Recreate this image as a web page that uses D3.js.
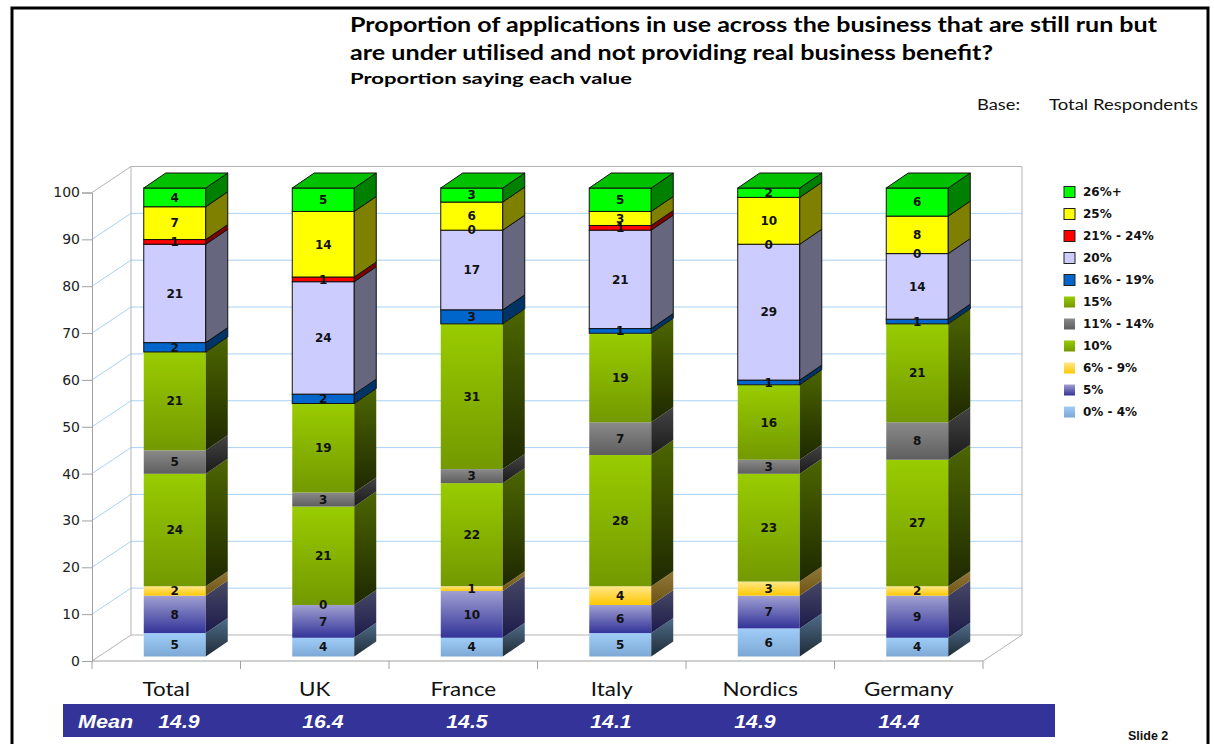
<!DOCTYPE html>
<html>
<head>
<meta charset="utf-8">
<script src="https://cdn.jsdelivr.net/npm/d3@7"></script>
<style>
  body { margin: 0; background: #fff; }
  svg { display: block; }
</style>
</head>
<body>
<svg id="chart" width="1214" height="744"></svg>
<script>
// ---- data ----
const categories = ["Total", "UK", "France", "Italy", "Nordics", "Germany"];
const bandLabels = ["0% - 4%", "5%", "6% - 9%", "10%", "11% - 14%", "15%",
                    "16% - 19%", "20%", "21% - 24%", "25%", "26%+"];
const pct0to4   = [5, 4, 4, 5, 6, 4];
const pct5      = [8, 7, 10, 6, 7, 9];
const pct6to9   = [2, 0, 1, 4, 3, 2];
const pct10     = [24, 21, 22, 28, 23, 27];
const pct11to14 = [5, 3, 3, 7, 3, 8];
const pct15     = [21, 19, 31, 19, 16, 21];
const pct16to19 = [2, 2, 3, 1, 1, 1];
const pct20     = [21, 24, 17, 21, 29, 14];
const pct21to24 = [1, 1, 0, 1, 0, 0];
const pct25     = [7, 14, 6, 3, 10, 8];
const pct26plus = [4, 5, 3, 5, 2, 6];
const meanScores = [14.9, 16.4, 14.5, 14.1, 14.9, 14.4];
const yTicks = [0, 10, 20, 30, 40, 50, 60, 70, 80, 90, 100];

const seriesValues = [pct0to4, pct5, pct6to9, pct10, pct11to14, pct15,
                      pct16to19, pct20, pct21to24, pct25, pct26plus];

// ---- look of each band (front face, side face, outline) ----
const bandStyles = [
  { front: ["#9fcdf8", "#7da8d5"], side: ["#4f6d8a", "#1f2b36"], stroke: null },
  { front: ["#a0a0d2", "#333399"], side: ["#484866", "#1b1b4a"], stroke: null },
  { front: ["#ffe78a", "#ffc800"], side: ["#927838", "#6e5414"], stroke: null },
  { front: ["#99cc00", "#739900"], side: ["#4d6600", "#1e2800"], stroke: null },
  { front: ["#8a8a8a", "#5e5e5e"], side: ["#444444", "#1a1a1a"], stroke: null },
  { front: ["#99cc00", "#739900"], side: ["#4d6600", "#1e2800"], stroke: null },
  { front: "#0066cc", side: "#003366", stroke: "#111" },
  { front: "#ccccff", side: "#66667f", stroke: "#111" },
  { front: "#ff0000", side: "#800000", stroke: "#111" },
  { front: "#ffff00", side: "#808000", stroke: "#111" },
  { front: "#00ff00", side: "#008000", top: "#00c000", stroke: "#111" }
];

const svg = d3.select("#chart");
const defs = svg.append("defs");

function paint(spec, id) {
  if (typeof spec === "string") return spec;
  const g = defs.append("linearGradient").attr("id", id)
    .attr("x1", 0).attr("y1", 0).attr("x2", 0).attr("y2", 1);
  g.append("stop").attr("offset", "0%").attr("stop-color", spec[0]);
  g.append("stop").attr("offset", "100%").attr("stop-color", spec[1]);
  return `url(#${id})`;
}
const fills = bandStyles.map((s, i) => ({
  front: paint(s.front, "front" + i),
  side: paint(s.side, "side" + i),
  top: s.top || null,
  stroke: s.stroke
}));

// stretch text horizontally to a given factor or width
function stretchBy(sel, k) {
  sel.each(function () {
    const w = this.getComputedTextLength();
    d3.select(this).attr("textLength", w * k).attr("lengthAdjust", "spacingAndGlyphs");
  });
}
function fitTo(sel, width) {
  sel.attr("textLength", width).attr("lengthAdjust", "spacingAndGlyphs");
}

// ---- outer frame ----
svg.append("rect").attr("x", 12).attr("y", 8).attr("width", 1196).attr("height", 800)
  .attr("fill", "none").attr("stroke", "#000").attr("stroke-width", 3);

// ---- titles ----
const titleFont = "Lato, 'Open Sans', sans-serif";
fitTo(svg.append("text").attr("x", 350).attr("y", 32)
  .attr("font-family", titleFont).attr("font-weight", 700).attr("font-size", 20)
  .text("Proportion of applications in use across the business that are still run but"), 807);
fitTo(svg.append("text").attr("x", 350).attr("y", 60)
  .attr("font-family", titleFont).attr("font-weight", 700).attr("font-size", 20)
  .text("are under utilised and not providing real business benefit?"), 643);
fitTo(svg.append("text").attr("x", 350).attr("y", 84)
  .attr("font-family", titleFont).attr("font-weight", 700).attr("font-size", 15.5)
  .text("Proportion saying each value"), 282);
fitTo(svg.append("text").attr("x", 977).attr("y", 110)
  .attr("font-family", titleFont).attr("font-size", 14.5).attr("fill", "#111")
  .text("Base:"), 43);
fitTo(svg.append("text").attr("x", 1049).attr("y", 110)
  .attr("font-family", titleFont).attr("font-size", 14.5).attr("fill", "#111")
  .text("Total Respondents"), 149);

// ---- scales ----
const x = d3.scaleBand().domain(categories).range([92, 983]);
const y = d3.scaleLinear().domain([0, 100]).range([661, 192.5]);
const wallDX = 39, wallDY = -26;          // depth of the floor / side wall
const barW = 62, barDX = 22, barDY = -15; // bar face width and bar depth
const barOffX = 8.5, barOffY = -4.5;      // bars sit a little back from the front edge

const xLeft = x.range()[0], xRight = x.range()[1];
const yBack = v => y(v) + wallDY;

// ---- walls and grid ----
const wall = svg.append("g");
const gridColor = "#a9d2f7", edgeColor = "#b4b4b4";
yTicks.filter(v => v > 0 && v < 100).forEach(v => {
  wall.append("line").attr("x1", xLeft + wallDX).attr("x2", xRight + wallDX)
    .attr("y1", yBack(v)).attr("y2", yBack(v)).attr("stroke", gridColor);
  wall.append("line").attr("x1", xLeft).attr("x2", xLeft + wallDX)
    .attr("y1", y(v)).attr("y2", yBack(v)).attr("stroke", gridColor);
});
const edges = [
  [xLeft + wallDX, yBack(100), xRight + wallDX, yBack(100)],
  [xLeft + wallDX, yBack(100), xLeft + wallDX, yBack(0)],
  [xRight + wallDX, yBack(100), xRight + wallDX, yBack(0)],
  [xLeft + wallDX, yBack(0), xRight + wallDX, yBack(0)],
  [xLeft, y(100), xLeft + wallDX, yBack(100)],
  [xLeft, y(0), xLeft + wallDX, yBack(0)],
  [xRight, y(0), xRight + wallDX, yBack(0)]
];
edges.forEach(e => wall.append("line")
  .attr("x1", e[0]).attr("y1", e[1]).attr("x2", e[2]).attr("y2", e[3])
  .attr("stroke", edgeColor));

// ---- y axis ----
const yAxis = svg.append("g").attr("transform", `translate(${xLeft},0)`)
  .call(d3.axisLeft(y).tickValues(yTicks).tickSize(10).tickPadding(2));
yAxis.select(".domain").attr("stroke", "#a0a0a0");
yAxis.selectAll(".tick line").attr("stroke", "#a0a0a0");
yAxis.selectAll(".tick text").attr("font-family", "'DejaVu Sans', Verdana, sans-serif")
  .attr("font-size", 14).attr("fill", "#222");

// ---- x axis ----
const xAxis = svg.append("g").attr("transform", `translate(0,${y(0)})`);
xAxis.append("line").attr("x1", xLeft).attr("x2", xRight).attr("stroke", "#a0a0a0");
[xLeft].concat(categories.map(c => x(c) + x.bandwidth())).forEach(px =>
  xAxis.append("line").attr("x1", px).attr("x2", px).attr("y1", 0).attr("y2", 8)
    .attr("stroke", "#a0a0a0"));
xAxis.selectAll("text.cat").data(categories).join("text").attr("class", "cat")
  .attr("x", c => x(c) + x.bandwidth() / 2).attr("y", 35)
  .attr("text-anchor", "middle").attr("font-family", titleFont)
  .attr("font-size", 19).attr("fill", "#111").text(c => c)
  .call(stretchBy, 1.18);

// ---- stacked 3D bars ----
const rows = categories.map((c, i) => {
  const r = { category: c };
  bandLabels.forEach((b, j) => { r[b] = seriesValues[j][i]; });
  return r;
});
const stacked = d3.stack().keys(bandLabels)(rows);

const bars = svg.append("g");
const labels = svg.append("g");
const barX = c => x(c) + x.bandwidth() / 2 + barOffX - barW / 2;
const barY = v => y(v) + barOffY;

categories.forEach((c, ci) => {
  const g = bars.append("g");
  const x0 = barX(c);
  stacked.forEach((layer, si) => {
    const [lo, hi] = layer[ci];
    const f = fills[si];
    const yTop = barY(hi), yBot = barY(lo);
    if (hi > lo) {
      g.append("rect").attr("x", x0).attr("y", yTop).attr("width", barW)
        .attr("height", yBot - yTop).attr("fill", f.front)
        .attr("stroke", f.stroke || "none").attr("stroke-width", 1);
      const side = [[x0 + barW, yTop], [x0 + barW + barDX, yTop + barDY],
                    [x0 + barW + barDX, yBot + barDY], [x0 + barW, yBot]];
      g.append("path").attr("d", d3.line()(side) + "Z").attr("fill", f.side)
        .attr("stroke", f.stroke || "none").attr("stroke-width", 1);
    }
    labels.append("text")
      .attr("x", x0 + barW / 2).attr("y", (yTop + yBot) / 2)
      .attr("dy", "0.36em").attr("text-anchor", "middle")
      .attr("font-family", "'DejaVu Sans', Verdana, sans-serif")
      .attr("font-weight", 700).attr("font-size", 12).attr("fill", "#111")
      .text(seriesValues[si][ci]);
  });
  // lid of the bar
  const topLayer = stacked[stacked.length - 1][ci];
  const yT = barY(topLayer[1]);
  const lid = [[x0, yT], [x0 + barDX, yT + barDY], [x0 + barW + barDX, yT + barDY], [x0 + barW, yT]];
  g.append("path").attr("d", d3.line()(lid) + "Z")
    .attr("fill", fills[fills.length - 1].top).attr("stroke", "#111").attr("stroke-width", 1);
});

// ---- legend ----
const legend = svg.append("g");
bandLabels.slice().reverse().forEach((b, i) => {
  const si = bandLabels.length - 1 - i;
  const cy = 192 + i * 22;
  legend.append("rect").attr("x", 1064).attr("y", cy - 5.5).attr("width", 11).attr("height", 11)
    .attr("fill", fills[si].front)
    .attr("stroke", fills[si].stroke ? "#222" : "none").attr("stroke-width", 1);
  legend.append("text").attr("x", 1083).attr("y", cy).attr("dy", "0.36em")
    .attr("font-family", "'DejaVu Sans', Verdana, sans-serif").attr("font-weight", 700)
    .attr("font-size", 12).attr("fill", "#111").text(b);
});

// ---- mean score strip ----
const strip = svg.append("g");
strip.append("rect").attr("x", 63).attr("y", 704).attr("width", 992).attr("height", 33)
  .attr("fill", "#333399");
const meanFont = "'Liberation Sans', Arial, sans-serif";
strip.append("text").attr("x", 78).attr("y", 728)
  .attr("font-family", meanFont).attr("font-weight", 700).attr("font-style", "italic")
  .attr("font-size", 18).attr("fill", "#fff").text("Mean").call(stretchBy, 1.2);
const meanX = d3.scalePoint().domain(categories).range([179, 899]);
strip.selectAll("text.mean").data(meanScores).join("text").attr("class", "mean")
  .attr("x", (d, i) => meanX(categories[i])).attr("y", 728).attr("text-anchor", "middle")
  .attr("font-family", meanFont).attr("font-weight", 700).attr("font-style", "italic")
  .attr("font-size", 18).attr("fill", "#fff").text(d => d.toFixed(1))
  .call(stretchBy, 1.18);

svg.append("text").attr("x", 1128).attr("y", 740)
  .attr("font-family", meanFont).attr("font-weight", 700).attr("font-size", 12.5)
  .attr("fill", "#111").text("Slide 2");
</script>
</body>
</html>
